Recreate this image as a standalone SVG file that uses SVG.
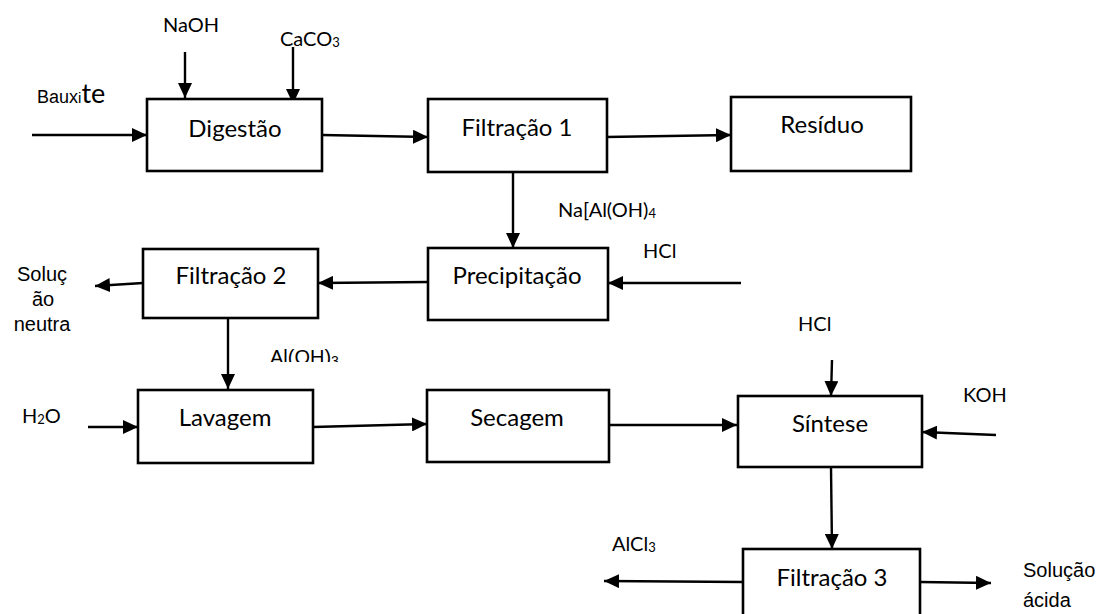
<svg xmlns="http://www.w3.org/2000/svg" width="1102" height="614" viewBox="0 0 1102 614">
<style>
.box{fill:#fff;stroke:#000;stroke-width:2.6}
.lbl{font-family:Lato,"Open Sans",sans-serif;font-weight:400;font-size:24px;fill:#000;text-anchor:middle}
.sm{font-family:Lato,"Open Sans",sans-serif;font-weight:400;font-size:20px;fill:#000}
.ar{font-family:"Liberation Sans",Arial,sans-serif;font-weight:400;font-size:20px;fill:#000}
.c{fill:none;stroke:#000;stroke-width:2.4}
</style>
<defs>
<marker id="ah" markerWidth="16" markerHeight="14" refX="15" refY="7" orient="auto" markerUnits="userSpaceOnUse"><path d="M0,0 L15,7 L0,14 z" fill="#000"/></marker>
<clipPath id="clipAl"><rect x="260" y="340" width="100" height="22"/></clipPath>
</defs>
<rect width="1102" height="614" fill="#fff"/>
<g id="connectors">
<line class="c" x1="32" y1="135" x2="147" y2="135" marker-end="url(#ah)"/>
<line class="c" x1="185" y1="52" x2="185" y2="98" marker-end="url(#ah)"/>
<line class="c" x1="293" y1="47" x2="293" y2="104" marker-end="url(#ah)"/>
<line class="c" x1="322" y1="135" x2="428" y2="137" marker-end="url(#ah)"/>
<line class="c" x1="606" y1="137" x2="731" y2="135" marker-end="url(#ah)"/>
<line class="c" x1="513" y1="172" x2="513" y2="248" marker-end="url(#ah)"/>
<line class="c" x1="741" y1="283" x2="608" y2="283" marker-end="url(#ah)"/>
<line class="c" x1="428" y1="282" x2="318" y2="283" marker-end="url(#ah)"/>
<line class="c" x1="143" y1="283" x2="95" y2="286" marker-end="url(#ah)"/>
<line class="c" x1="228" y1="315" x2="228" y2="389" marker-end="url(#ah)"/>
<line class="c" x1="88" y1="427" x2="138" y2="427" marker-end="url(#ah)"/>
<line class="c" x1="313" y1="427" x2="427" y2="424" marker-end="url(#ah)"/>
<line class="c" x1="609" y1="425" x2="737" y2="425" marker-end="url(#ah)"/>
<line class="c" x1="832" y1="360" x2="831" y2="396" marker-end="url(#ah)"/>
<line class="c" x1="996" y1="435" x2="922" y2="432" marker-end="url(#ah)"/>
<line class="c" x1="831" y1="467" x2="832" y2="549" marker-end="url(#ah)"/>
<line class="c" x1="743" y1="582" x2="604" y2="581" marker-end="url(#ah)"/>
<line class="c" x1="920" y1="582" x2="991" y2="583" marker-end="url(#ah)"/>
</g>
<g id="digestao"><rect class="box" x="147" y="99" width="175" height="72"/><text class="lbl" x="235" y="137">Digestão</text></g>
<g id="filtracao1"><rect class="box" x="428" y="99" width="179" height="73"/><text class="lbl" x="517" y="136">Filtração 1</text></g>
<g id="residuo"><rect class="box" x="731" y="97" width="180" height="74"/><text class="lbl" x="822" y="133">Resíduo</text></g>
<g id="precipitacao"><rect class="box" x="428" y="248" width="180" height="72"/><text class="lbl" x="517" y="284">Precipitação</text></g>
<g id="filtracao2"><rect class="box" x="143" y="249" width="175" height="69"/><text class="lbl" x="231" y="284">Filtração 2</text></g>
<g id="lavagem"><rect class="box" x="138" y="390" width="175" height="73"/><text class="lbl" x="225" y="426">Lavagem</text></g>
<g id="secagem"><rect class="box" x="427" y="390" width="182" height="72"/><text class="lbl" x="517" y="426">Secagem</text></g>
<g id="sintese"><rect class="box" x="738" y="396" width="184" height="71"/><text class="lbl" x="830" y="432">Síntese</text></g>
<g id="filtracao3"><rect class="box" x="743" y="549" width="177" height="80"/><text class="lbl" x="832" y="586">Filtração 3</text></g>
<g id="labels">
<text class="sm" x="37" y="103"><tspan font-family="Liberation Sans, Arial, sans-serif" font-size="18">Baux</tspan><tspan font-family="Liberation Sans, Arial, sans-serif" font-size="15">i</tspan><tspan font-size="27">te</tspan></text>
<text class="sm" x="163" y="32">NaOH</text>
<text class="sm" x="280" y="46">CaCO<tspan font-size="13" dy="1">3</tspan></text>
<text class="sm" x="558" y="217">Na[Al(OH)<tspan font-size="13" dy="1">4</tspan></text>
<text class="sm" x="643" y="258">HCl</text>
<text class="ar" text-anchor="middle"><tspan x="42" y="281">Soluç</tspan><tspan x="43" y="306">ão</tspan><tspan x="42" y="331">neutra</tspan></text>
<text class="ar" x="270" y="364" clip-path="url(#clipAl)">Al(OH)<tspan font-size="14" dy="2">3</tspan></text>
<text class="sm" x="22" y="423">H<tspan font-size="13" dy="1">2</tspan><tspan dy="-1">O</tspan></text>
<text class="sm" x="798" y="331">HCl</text>
<text class="sm" x="963" y="402">KOH</text>
<text class="sm" x="612" y="551">AlCl<tspan font-size="13" dy="1">3</tspan></text>
<text class="ar" font-size="18"><tspan x="1023" y="577">Solução</tspan><tspan x="1023" y="607">ácida</tspan></text>
</g>
</svg>
